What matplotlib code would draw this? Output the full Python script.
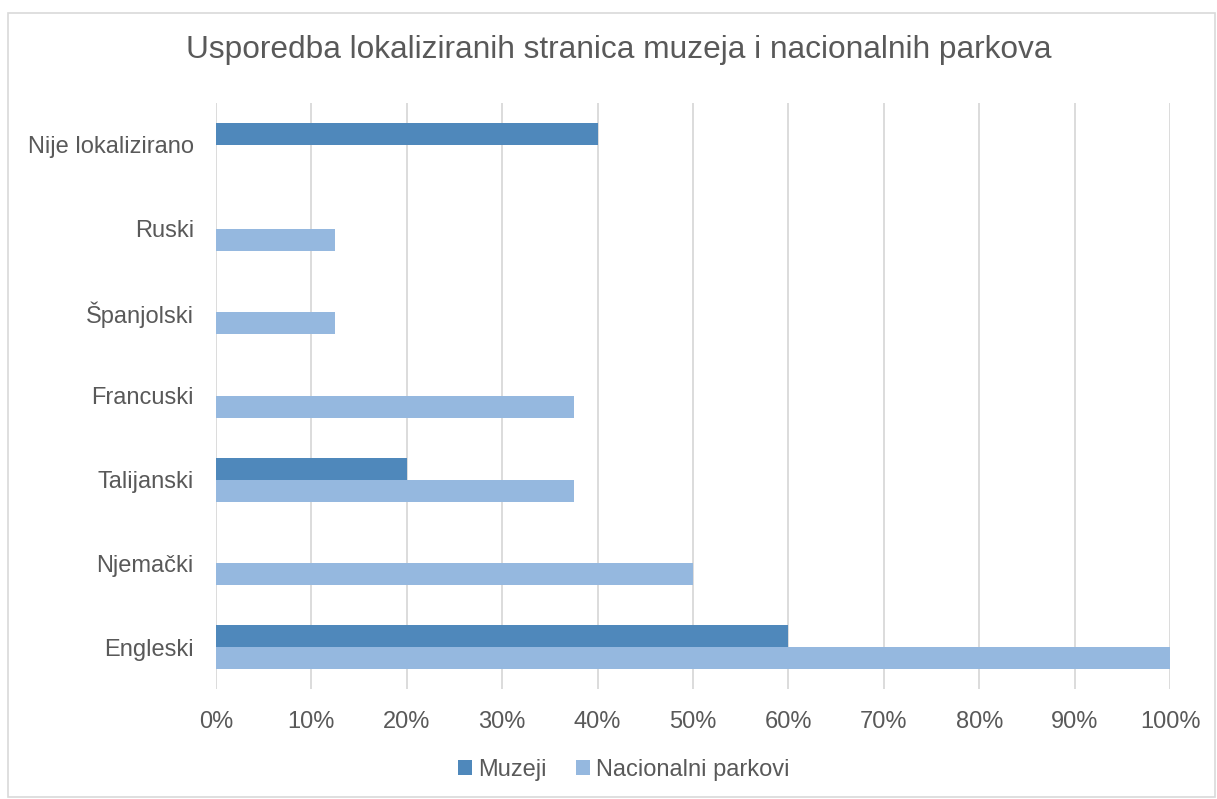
import matplotlib
matplotlib.use("Agg")
import matplotlib.pyplot as plt
import numpy as np
from matplotlib.patches import Rectangle
from matplotlib.ticker import FuncFormatter

categories = ["Engleski", "Njemački", "Talijanski", "Francuski", "Španjolski", "Ruski", "Nije lokalizirano"]
muzeji = [60, 0, 20, 0, 0, 0, 40]
parkovi = [100, 50, 37.5, 37.5, 12.5, 12.5, 0]
series_names = ["Muzeji", "Nacionalni parkovi"]
title = "Usporedba lokaliziranih stranica muzeja i nacionalnih parkova"

c_dark = "#4F88BB"
c_light = "#95B8DF"
txt = "#595959"

plt.rcParams['font.family'] = ['Liberation Sans', 'DejaVu Sans']

fig = plt.figure(figsize=(12.17, 7.99), dpi=100)
fig.patches.append(Rectangle((8/1217, 1-797/799), 1207/1217, (797-13)/799, transform=fig.transFigure,
                             fill=False, edgecolor="#D9D9D9", linewidth=1.2))
ax = fig.add_axes([216/1217, 1-689/799, (1170-216)/1217, (689-103)/799])

y = np.arange(len(categories))
h = 0.262
ax.barh(y + h/2, muzeji, height=h, color=c_dark, label=series_names[0], zorder=3)
ax.barh(y - h/2, parkovi, height=h, color=c_light, label=series_names[1], zorder=3)

ax.set_xlim(0, 100)
ax.set_ylim(-0.5, len(categories) - 0.5)
ax.set_xticks(np.arange(0, 101, 10))
ax.xaxis.set_major_formatter(FuncFormatter(lambda v, p: f"{int(v)}%"))
ax.set_yticks(y)
ax.set_yticklabels(categories)
ax.grid(axis="x", color="#D9D9D9", linewidth=1.3, zorder=0)
for s in ax.spines.values():
    s.set_visible(False)
ax.tick_params(axis="both", length=0, colors=txt, labelsize=17)
ax.tick_params(axis="x", pad=16)
ax.tick_params(axis="y", pad=16)

fig.text(619/1217, 1-50/799, title, ha="center", va="center", fontsize=22.8, color=txt)

leg = fig.legend(loc="center", bbox_to_anchor=(624/1217, 1-770/799), ncol=2, frameon=False,
                 fontsize=17, handlelength=0.6, handleheight=0.6, handletextpad=0.25,
                 columnspacing=1.25, labelcolor=txt)

fig.savefig("out.png", dpi=100)
